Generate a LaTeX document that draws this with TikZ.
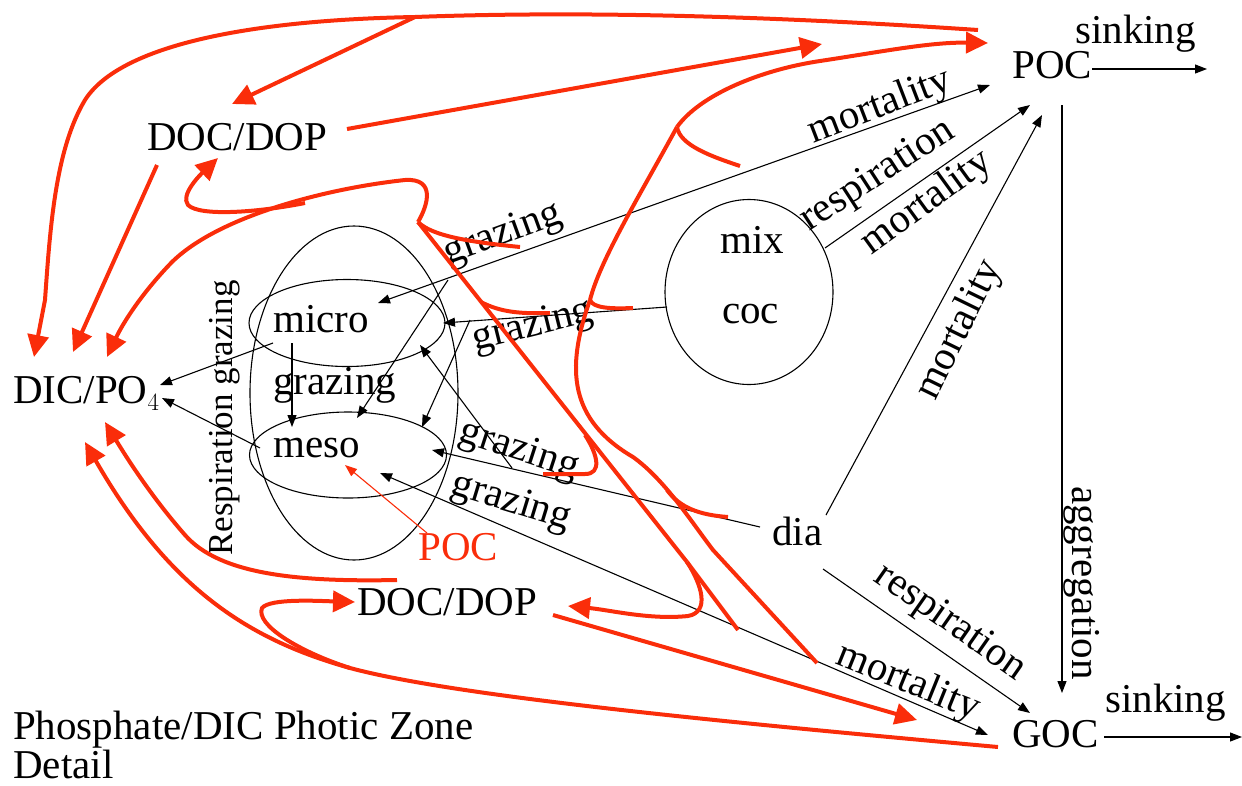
\documentclass[tikz,border=0pt]{standalone}
\usepackage{fontspec}
\setmainfont{Liberation Serif}
\usetikzlibrary{arrows.meta,shapes.geometric}
\definecolor{flowred}{RGB}{250,45,10}
\begin{document}
\begin{tikzpicture}[x=1pt,y=-1pt,
  lbl/.style={inner sep=0pt, font=\fontsize{41}{46}\selectfont},
  blk/.style={draw=black, line width=1.1pt, -{Triangle[length=12pt,width=9pt]}},
  blkb/.style={draw=black, line width=1.1pt, {Triangle[length=12pt,width=9pt]}-{Triangle[length=12pt,width=9pt]}},
  flow/.style={draw=flowred, line width=4pt, line join=round},
  flowarr/.style={flow, -{Triangle[length=22pt,width=21pt]}},
  thinred/.style={draw=flowred, line width=1.1pt, -{Triangle[length=12pt,width=9pt]}},
  oval/.style={draw=black, line width=1.1pt, ellipse, inner sep=0pt}
]
\useasboundingbox (0,0) rectangle (1242,785);

% ---------- ovals ----------
\node[oval, minimum width=208pt, minimum height=334pt] (zoo) at (354,393) {};
\node[oval, minimum width=196pt, minimum height=87pt] (microE) at (347,323) {};
\node[oval, minimum width=197pt, minimum height=86pt] (mesoE) at (348,455) {};
\node[oval, minimum width=168pt, minimum height=185pt] (phyto) at (749,292) {};

% ---------- text nodes ----------
\node[lbl, anchor=base west] (docT) at (147,150) {DOC/DOP};
\node[lbl, anchor=base west] (dic) at (13,403) {DIC/PO$_{4}$};
\node[lbl, anchor=base west] (pocT) at (1012,78) {POC};
\node[lbl, anchor=base west] (sinkT) at (1075,43) {sinking};
\node[lbl, anchor=base west] (goc) at (1012,747) {GOC};
\node[lbl, anchor=base west] (sinkB) at (1105,712) {sinking};
\node[lbl, anchor=base west] (dia) at (772,545) {dia};
\node[lbl, anchor=base west] (mix) at (720,253) {mix};
\node[lbl, anchor=base west] (coc) at (722,323) {coc};
\node[lbl, anchor=base west] (micro) at (273,332) {micro};
\node[lbl, anchor=base west] (grzM) at (273,394) {grazing};
\node[lbl, anchor=base west] (meso) at (273,457) {meso};
\node[lbl, anchor=base west, text=flowred] (pocR) at (418,560) {POC};
\node[lbl, anchor=base west] (docB) at (357,615) {DOC/DOP};
\node[lbl, anchor=base west] (title1) at (13,739) {Phosphate/DIC Photic Zone};
\node[lbl, anchor=base west] (title2) at (13,778) {Detail};

% rotated labels
\node[lbl, rotate=20] (g1) at (503,235) {grazing};
\node[lbl, rotate=14] (g2) at (533,327) {grazing};
\node[lbl, rotate=-18] (g3) at (519,451) {grazing};
\node[lbl, rotate=-17] (g4) at (511,503) {grazing};
\node[lbl, rotate=21] (m1) at (880,107) {mortality};
\node[lbl, rotate=33] (r1) at (878,176) {respiration};
\node[lbl, rotate=36] (m2) at (927,203) {mortality};
\node[lbl, rotate=64] (m3) at (960,330) {mortality};
\node[lbl, rotate=-90] (agg) at (1082,583) {aggregation};
\node[lbl, rotate=-35] (r2) at (950,623) {respiration};
\node[lbl, rotate=-22] (m4) at (908,683) {mortality};
\node[inner sep=0pt, font=\fontsize{35}{40}\selectfont, rotate=90] (rg) at (225,418) {Respiration grazing};

% ---------- black connectors ----------
\coordinate (k1a) at (378,303); \coordinate (k1b) at (990,85);
\draw[blkb] (k1a) -- (k1b);
\coordinate (k2a) at (825,248); \coordinate (k2b) at (1030,105);
\draw[blk] (k2a) -- (k2b);
\coordinate (k3a) at (826,515); \coordinate (k3b) at (1042,115);
\draw[blk] (k3a) -- (k3b);
\coordinate (k4a) at (1062,105); \coordinate (k4b) at (1062,693);
\draw[blk] (k4a) -- (k4b);
\coordinate (k5a) at (823,569); \coordinate (k5b) at (1030,713);
\draw[blk] (k5a) -- (k5b);
\coordinate (k6a) at (380,473); \coordinate (k6b) at (988,735);
\draw[blkb] (k6a) -- (k6b);
\coordinate (k7a) at (667,307); \coordinate (k7b) at (443,323);
\draw[blk] (k7a) -- (k7b);
\coordinate (k8a) at (760,527); \coordinate (k8b) at (432,450);
\draw[blk] (k8a) -- (k8b);
\coordinate (k9a) at (512,468); \coordinate (k9b) at (420,345);
\draw[blk] (k9a) -- (k9b);
\coordinate (k10a) at (448,280); \coordinate (k10b) at (357,418);
\draw[blk] (k10a) -- (k10b);
\coordinate (k11a) at (470,320); \coordinate (k11b) at (422,427);
\draw[blk] (k11a) -- (k11b);
\coordinate (k12a) at (292,343); \coordinate (k12b) at (292,427);
\draw[blk] (k12a) -- (k12b);
\coordinate (k13a) at (273,343); \coordinate (k13b) at (160,385);
\draw[blk] (k13a) -- (k13b);
\coordinate (k14a) at (260,448); \coordinate (k14b) at (162,398);
\draw[blk] (k14a) -- (k14b);
\coordinate (k15b) at (1207,69);
\draw[blk] (pocT.east |- 0,69) -- (k15b);
\coordinate (k16b) at (1242,737);
\draw[blk] (1104,737) -- (k16b);
\coordinate (pr1) at (427,533); \coordinate (pr2) at (345,465);
\draw[thinred] (pr1) -- (pr2);

% ---------- red flows ----------
\coordinate (jTop) at (415,17);
\coordinate (jA) at (418,222);
\coordinate (jB) at (677,127);
\coordinate (jC) at (590,300);
\coordinate (jD) at (687,562);
\coordinate (jE) at (350,668);

\draw[flow] (978,30) .. controls (800,18) and (600,10) .. (jTop);
\draw[flowarr] (jTop) -- (232,104);
\draw[flowarr] (jTop) .. controls (250,20) and (120,45) .. (85,100) .. controls (55,150) and (50,230) .. (45,300) -- (34,357);
\draw[flowarr] (157,165) -- (73,352);
\draw[flowarr] (347,129) -- (822,44);

\draw[flowarr] (jA) .. controls (428,205) and (436,178) .. (405,180) .. controls (330,188) and (220,215) .. (172,262) .. controls (140,295) and (122,325) .. (107,357);
\draw[flowarr] (305,203) .. controls (260,212) and (200,217) .. (188,205) .. controls (180,195) and (200,175) .. (218,158);
\draw[flow] (jA) .. controls (432,236) and (470,242) .. (520,247);
\draw[flow] (jA) -- (jD);
\draw[flow] (jD) -- (738,630);
\draw[flowarr] (jD) .. controls (702,585) and (710,612) .. (688,616) .. controls (650,620) and (610,610) .. (568,606);
\draw[flow] (481,302) .. controls (500,312) and (520,314) .. (550,313);
\draw[flow] (585,435) .. controls (598,455) and (602,474) .. (585,474) -- (543,474);

\draw[flowarr] (jB) .. controls (700,95) and (760,70) .. (820,61) .. controls (880,52) and (930,42) .. (988,43);
\draw[flow] (jB) .. controls (680,145) and (710,156) .. (740,166);
\draw[flow] (jB) .. controls (640,195) and (600,260) .. (jC);
\draw[flow] (jC) .. controls (593,308) and (610,309) .. (633,308);
\draw[flow] (jC) .. controls (565,370) and (570,420) .. (633,457) .. controls (665,480) and (690,520) .. (713,550) -- (817,663);
\draw[flow] (667,490) .. controls (680,508) and (700,515) .. (728,517);

\draw[flowarr] (998,747) .. controls (700,720) and (450,695) .. (jE) .. controls (250,640) and (170,590) .. (85,442);
\draw[flowarr] (397,580) .. controls (300,582) and (220,575) .. (185,535) .. controls (150,495) and (125,455) .. (105,422);
\draw[flowarr] (jE) .. controls (300,652) and (255,625) .. (262,608) .. controls (270,598) and (320,601) .. (355,602);
\draw[flowarr] (553,615) -- (917,720);
\end{tikzpicture}
\end{document}
